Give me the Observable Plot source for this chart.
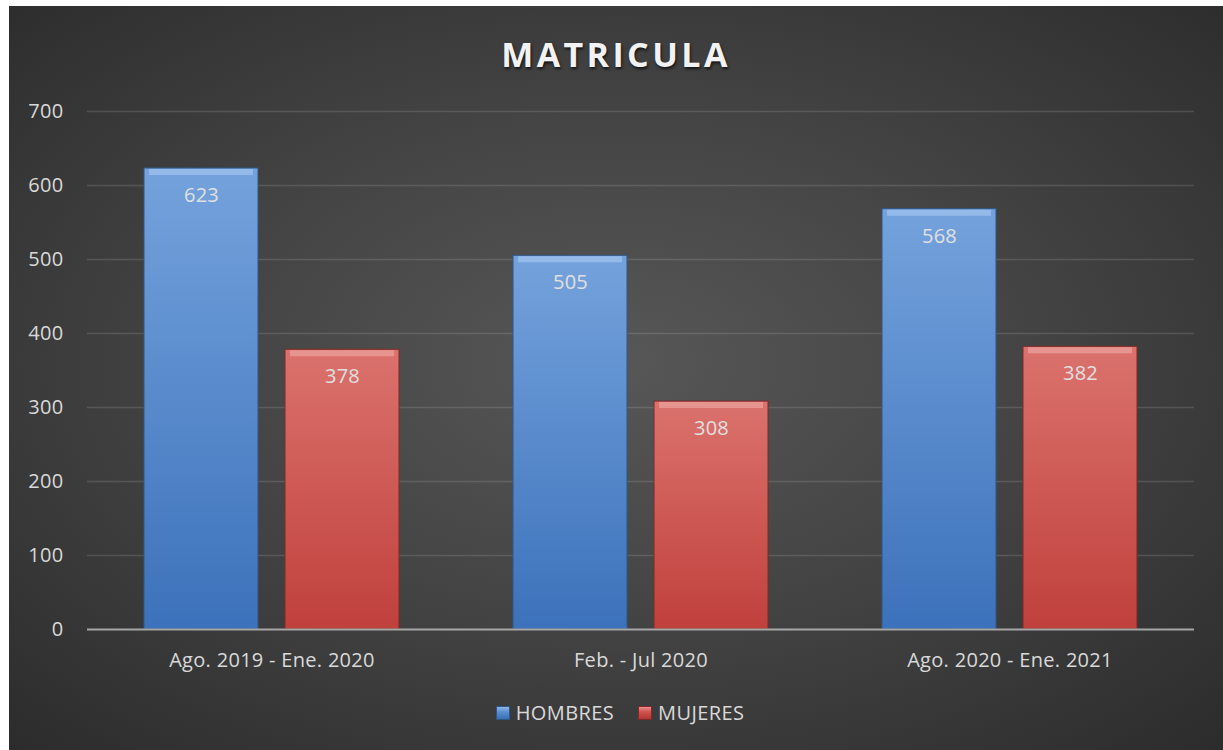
<!DOCTYPE html>
<html>
<head>
<meta charset="utf-8">
<script src="https://cdn.jsdelivr.net/npm/d3@7"></script>
<script src="https://cdn.jsdelivr.net/npm/@observablehq/plot@0.6"></script>
<style>
  html, body { margin: 0; padding: 0; background: #ffffff; }
  #chart {
    position: absolute; left: 9px; top: 6px; width: 1214px; height: 744px;
    background: radial-gradient(ellipse 75% 75% at 50% 48%, #575757 0%, #444444 45%, #2a2a2a 100%);
    font-family: "Open Sans", sans-serif; overflow: hidden;
  }
  #title {
    position: absolute; left: 0; right: 0; top: 25px; text-align: center;
    font-size: 34px; font-weight: 700; letter-spacing: 3.4px; color: #f2f2f2;
    text-shadow: 1px 2px 3px rgba(0,0,0,0.7);
  }
  #plot { position: absolute; left: 0; top: 84px; }
  #legend {
    position: absolute; left: 0; right: 0; top: 693px; display: flex; justify-content: center;
    gap: 24px; font-size: 20px; letter-spacing: 0.4px; color: #d9d9d9; padding-left: 8px;
  }
  .item { display: flex; align-items: center; gap: 6px; }
  .sw { width: 12px; height: 12px; display: inline-block; }
</style>
</head>
<body>
<div id="chart">
  <div id="title">MATRICULA</div>
  <div id="plot"></div>
  <div id="legend"></div>
</div>
<script>
const categories = ["Ago. 2019 - Ene. 2020", "Feb. - Jul 2020", "Ago. 2020 - Ene. 2021"];
const series = ["HOMBRES", "MUJERES"];
const hombres = [623, 505, 568];
const mujeres = [378, 308, 382];
const yTicks = [0, 100, 200, 300, 400, 500, 600, 700];

const seriesValues = { HOMBRES: hombres, MUJERES: mujeres };
const data = [];
categories.forEach((c, i) => series.forEach(s => data.push({ cat: c, series: s, value: seriesValues[s][i] })));

const gradIds = { HOMBRES: "gBlue", MUJERES: "gRed" };
const strokeCol = { HOMBRES: "#2f5684", MUJERES: "#7e2a28" };
const bevelCol = { HOMBRES: "#a3c5ef", MUJERES: "#eda4a0" };

const plot = Plot.plot({
  width: 1214,
  height: 594,
  marginLeft: 77,
  marginRight: 29,
  marginTop: 21,
  marginBottom: 55,
  style: { background: "transparent", color: "#d9d9d9", fontFamily: "Open Sans", fontSize: "20px", letterSpacing: "0.3px" },
  fx: { domain: categories, padding: 0, label: null },
  x: { domain: series, paddingInner: 0.19, paddingOuter: 0.4, axis: null },
  y: { domain: [0, 700], label: null },
  color: { type: "ordinal", domain: series, range: series.map(s => `url(#${gradIds[s]})`) },
  marks: [
    Plot.ruleY(yTicks.slice(1), { stroke: "#ffffff", strokeOpacity: 0.13, strokeWidth: 1.3 }),
    Plot.barY(data, { fx: "cat", x: "series", y: "value", fill: "series",
      stroke: d => strokeCol[d.series], strokeWidth: 1 }),
    Plot.tickY(data, { fx: "cat", x: "series", y: "value", stroke: d => bevelCol[d.series],
      strokeWidth: 6, dy: 3.5, insetLeft: 5, insetRight: 5, strokeOpacity: 0.7 }),
    Plot.text(data, { fx: "cat", x: "series", y: "value", text: d => String(d.value),
      dy: 27, fill: "#e0e0e0", fontSize: 20 }),
    Plot.ruleY([0], { stroke: "#a6a6a6", strokeWidth: 2 }),
    Plot.axisY(yTicks, { tickSize: 0, tickPadding: 24, fontSize: 20, fill: "#d9d9d9", label: null }),
    Plot.axisFx({ anchor: "bottom", tickSize: 0, tickPadding: 23, fontSize: 20, fill: "#d9d9d9", label: null })
  ]
});

const svg = d3.select(plot.tagName.toLowerCase() === "svg" ? plot : plot.querySelector("svg"));
const defs = svg.insert("defs", ":first-child");
const grads = {
  gBlue: [["0%", "#74a2dc"], ["100%", "#3c72bb"]],
  gRed: [["0%", "#db726d"], ["100%", "#c0403c"]]
};
for (const [id, stops] of Object.entries(grads)) {
  const g = defs.append("linearGradient").attr("id", id).attr("x1", 0).attr("y1", 0).attr("x2", 0).attr("y2", 1);
  stops.forEach(([o, c]) => g.append("stop").attr("offset", o).attr("stop-color", c));
}
document.getElementById("plot").appendChild(plot);

const legend = document.getElementById("legend");
const swBg = {
  HOMBRES: "linear-gradient(#8fb6e8 0%, #5b8fd0 40%, #3a6fb5 100%)",
  MUJERES: "linear-gradient(#ea8f8b 0%, #d0524e 40%, #b23835 100%)"
};
series.forEach(s => {
  const it = document.createElement("div");
  it.className = "item";
  const sw = document.createElement("span");
  sw.className = "sw";
  sw.style.background = swBg[s];
  sw.style.border = "1px solid " + strokeCol[s];
  const t = document.createElement("span");
  t.textContent = s;
  it.appendChild(sw); it.appendChild(t);
  legend.appendChild(it);
});
</script>
</body>
</html>
